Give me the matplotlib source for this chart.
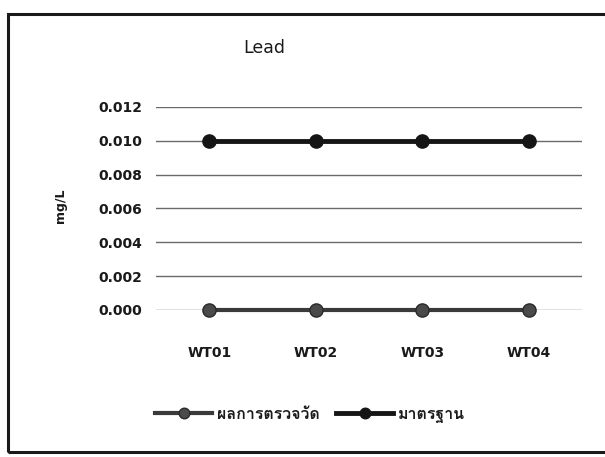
import matplotlib
matplotlib.use("Agg")
import matplotlib.pyplot as plt
import matplotlib.patches as patches

# data
sites = ["WT01", "WT02", "WT03", "WT04"]
measured = [0.0, 0.0, 0.0, 0.0]
standard = [0.010, 0.010, 0.010, 0.010]
yticks = [0.000, 0.002, 0.004, 0.006, 0.008, 0.010, 0.012]
label_measured = "ผลการตรวจวัด"
label_standard = "มาตรฐาน"

plt.rcParams['font.family'] = ['DejaVu Sans']

fig = plt.figure(figsize=(6.05, 4.57), dpi=100)
ax = fig.add_axes([0.258, 0.322, 0.704, 0.444])

# outer frame of the chart
frame = patches.Rectangle((8 / 605, 5 / 457), 1.2, 1 - 19 / 457, transform=fig.transFigure,
                          fill=False, edgecolor='#1a1a1a', lw=2.2, clip_on=False)
fig.patches.append(frame)

x = range(len(sites))
ax.plot(x, measured, color='#3a3a3a', lw=3, marker='o', markersize=9.5,
        markerfacecolor='#4a4a4a', markeredgecolor='#2a2a2a', label=label_measured,
        zorder=3, clip_on=False)
ax.plot(x, standard, color='#151515', lw=3.5, marker='o', markersize=9.5,
        markerfacecolor='#151515', markeredgecolor='#151515', label=label_standard,
        zorder=3, clip_on=False)

ax.set_xlim(-0.5, len(sites) - 0.5)
ax.set_ylim(0, 0.012)
ax.set_yticks(yticks)
ax.set_yticklabels([f"{v:.3f}" for v in yticks])
ax.set_xticks(list(x))
ax.set_xticklabels(sites)
ax.yaxis.grid(True, color='#6a6a6a', lw=1.0)
ax.set_axisbelow(True)
for s in ax.spines.values():
    s.set_visible(False)
ax.tick_params(length=0, labelsize=10, colors='#1a1a1a')
ax.tick_params(axis='y', pad=10)
ax.tick_params(axis='x', pad=26)
for lab in ax.get_xticklabels() + ax.get_yticklabels():
    lab.set_fontweight('bold')

fig.text(264 / 605, 1 - 48 / 457, "Lead", ha='center', va='center', fontsize=12.5, color='#1a1a1a')
fig.text(61 / 605, 1 - 206 / 457, "mg/L", ha='center', va='center', rotation=90,
         fontsize=9, fontweight='bold', color='#1a1a1a')

leg = fig.legend(loc='center', bbox_to_anchor=(310 / 605, 1 - 415 / 457), ncol=2, frameon=False,
                 handlelength=3.6, columnspacing=1.0, handletextpad=0.3, markerscale=0.8,
                 prop={'family': ['Loma', 'DejaVu Sans'], 'size': 11.5, 'weight': 'bold'})
for t in leg.get_texts():
    t.set_color('#1a1a1a')

fig.savefig("out.png", dpi=100)
